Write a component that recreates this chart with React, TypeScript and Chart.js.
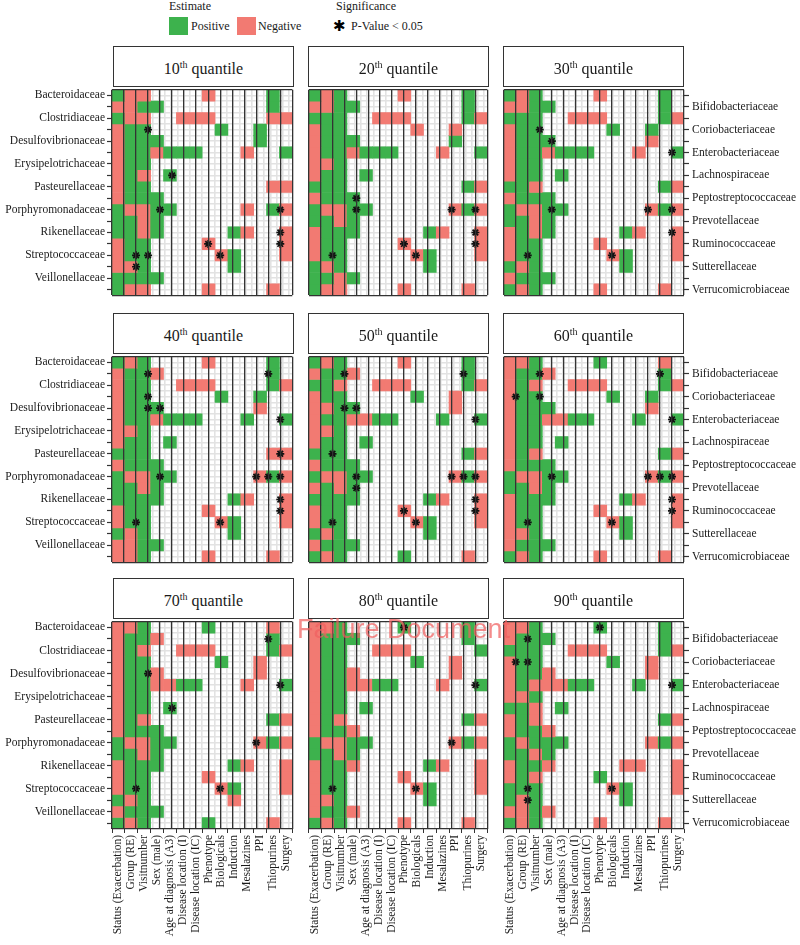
import React, { useEffect, useRef } from 'react';
import { Chart, registerables } from 'chart.js';

Chart.register(...registerables);

const COLUMNS = [
  'Status (Exacerbation)', 'Group (RE)', 'Visitnumber', 'Sex (male)', 'Age at diagnosis (A3)',
  'Disease location (I)', 'Disease location (IC)', 'Phenotype', 'Biologicals', 'Induction',
  'Mesalazines', 'PPI', 'Thiopurines', 'Surgery',
];

const FAMILIES = [
  'Bacteroidaceae', 'Bifidobacteriaceae', 'Clostridiaceae', 'Coriobacteriaceae',
  'Desulfovibrionaceae', 'Enterobacteriaceae', 'Erysipelotrichaceae', 'Lachnospiraceae',
  'Pasteurellaceae', 'Peptostreptococcaceae', 'Porphyromonadaceae', 'Prevotellaceae',
  'Rikenellaceae', 'Ruminococcaceae', 'Streptococcaceae', 'Sutterellaceae',
  'Veillonellaceae', 'Verrucomicrobiaceae',
];

const QUANTILES = ['10', '20', '30', '40', '50', '60', '70', '80', '90'];

// One string per family, one character per column:
// P = positive, N = negative, p / n = significant (P-Value < 0.05), . = no estimate
const Q10 = [
  'PNN....N....P.', 'NNPP........P.', 'PNN..NNN....NN', 'NPp.....P..P..', 'NPPP.......P..',
  'NPPNPPP...N..P', 'NPP...........', 'NPN.p.........', 'NPP.........NN', 'NPPP..........',
  'PNNpP.....N.Pn', 'PPNP..........', 'PPNP.....PN..n', 'NPP....n.....n', 'Npp.....nP...N',
  'NnP......P....', 'PPPP..........', 'PNN....N....N.',
];
const Q20 = [
  'PNP....N....P.', 'NNPP........P.', 'PPP..NNN....PN', 'NPP.....N..N..', 'NPPP.......P..',
  'NPPNPPP...N..P', 'NNP...........', 'NPP.P.........', 'PPP.........PN', 'NPPp..........',
  'PNNpP......nPn', 'PPNP..........', 'NPPP.....PN..n', 'NPP....n.....n', 'NpP.....nP...N',
  'PNP......P....', 'PPNP..........', 'PNN....N....N.',
];
const Q30 = [
  'PNP....N....P.', 'NNPP........P.', 'PPP..NNN....PN', 'NPp.....P..P..', 'NPPp.......N..',
  'NPPNPPP...N..p', 'NPP...........', 'NPP.P.........', 'PPN.........PN', 'NPPP..........',
  'PNNpP......nPn', 'PPNP..........', 'NPNP.....PN..n', 'NPP....N.....N', 'NpP.....nP...N',
  'PNP......P....', 'NPPP..........', 'PNP....N....N.',
];
const Q40 = [
  'PNP....N....P.', 'NPpN........p.', 'NPP..NNN....PN', 'NPp.....P..P..', 'NPpp.......N..',
  'NPPNPPP...P..p', 'NNP...........', 'NPP.P.........', 'PPP.........Nn', 'NPPP..........',
  'PNNpP......npn', 'PPNP..........', 'PPPP.....PN..n', 'NPP....N.....n', 'NpP.....nP...N',
  'PNP......P....', 'NNPP..........', 'NNP....N....N.',
];
const Q50 = [
  'PNP....N....P.', 'NPpN........p.', 'PPN..NNN....PN', 'NPP.....P..N..', 'NNpp.......N..',
  'NPPNNPP...P..p', 'NNP...........', 'NPP.P.........', 'PpP.........PN', 'NPPP..........',
  'PNNpP......npn', 'NPNp..........', 'PPPP.....PN..n', 'NPP....n.....n', 'NpP.....nP...N',
  'PNP......P....', 'NPPP..........', 'PNP....P....N.',
];
const Q60 = [
  'NNP....P....N.', 'NPpN........p.', 'NPN..NNN....PN', 'nPp.....P..P..', 'NPPP.......N..',
  'NPPNNPP...P..p', 'NPP...........', 'NPP.P.........', 'NPN.........PN', 'NPPP..........',
  'PNNpP......npn', 'PPNP..........', 'NPPP.....PN..n', 'NPP....N.....n', 'NpP.....nP...N',
  'NNP......P....', 'NPPP..........', 'PNP....N....N.',
];
const Q70 = [
  'NNP....P....N.', 'NPPN........p.', 'NPN..NNN....PN', 'NPP.....P..N..', 'NPpN.......N..',
  'NPPNNPP...N..p', 'NPP...........', 'NPP.p.........', 'NPN.........PN', 'NPPP..........',
  'PNNPP......nPN', 'PPNP..........', 'NPPP.....PN..N', 'NPP....N.....N', 'NpP.....nP...N',
  'PNP......N....', 'NPPP..........', 'PNP....P....N.',
];
const Q80 = [
  'NNP....p....P.', 'NPPP........P.', 'NPP..NNN.....P', 'NPP.....P..N..', 'NPPN.......N..',
  'NPPNNPP...N..p', 'NPP...........', 'NPP.P.........', 'NPN.........PN', 'NPPN..........',
  'PNNPP......nPN', 'PPNP..........', 'NPPN.....PN..N', 'NPP....N.....N', 'NpP.....nP...N',
  'NNP......P....', 'NPPN..........', 'PNP....N....N.',
];
const Q90 = [
  'NNP....p....P.', 'NpPP........P.', 'PPP..NNN....PN', 'npP.....P..N..', 'NPPN.......N..',
  'NPNNNPP...P..p', 'NNP...........', 'PPN.P.........', 'NPN.........PN', 'NPPN..........',
  'PNPPP......NPN', 'PPNP..........', 'NPPN.....NN..N', 'NPN....P.....N', 'PpP.....nP...N',
  'PnP......P....', 'NNPN..........', 'PNP....N....N.',
];

const PANELS = [Q10, Q20, Q30, Q40, Q50, Q60, Q70, Q80, Q90];

const SERIF = "'Liberation Serif', 'Times New Roman', serif";
const TXT = '#1a1a1a';
const GREEN = '#3DB24D';
const RED = '#F27A72';
const FRAME = '#333333';
const LIGHT = '#e2e2e2';

const FIG_W = 800;
const FIG_H = 945;
const PX = [112, 307, 502];
const PY = [88, 355, 620];
const PW = 182;
const PH = 209;
const STRIP_H = 41;

function noPad(s: any) {
  s.paddingLeft = 0;
  s.paddingRight = 0;
  s.paddingTop = 0;
  s.paddingBottom = 0;
}

function Panel({ idx }: { idx: number }) {
  const ref = useRef<HTMLCanvasElement>(null);
  const r = Math.floor(idx / 3);
  const c = idx % 3;
  const left = c === 0 ? 0 : PX[c] - 4;
  const right = c === 2 ? FIG_W : PX[c] + PW + 4;
  const top = PY[r] - 4;
  const bottom = r === 2 ? FIG_H : PY[r] + PH + 4;
  const w = right - left;
  const h = bottom - top;
  const showLeft = c === 0;
  const showRight = c === 2;
  const showBottom = r === 2;

  useEffect(() => {
    const grid = PANELS[idx];
    const datasets: any[] = FAMILIES.map((fam, ri) => ({
      type: 'bar',
      label: fam,
      order: 2,
      data: COLUMNS.map((_, ci) => (grid[ri][ci] === '.' ? null : [ri, ri + 1])),
      backgroundColor: COLUMNS.map((_, ci) => ('Pp'.includes(grid[ri][ci]) ? GREEN : RED)),
      borderWidth: 0,
      barPercentage: 1,
      categoryPercentage: 1,
      grouped: false,
      xAxisID: 'x',
      yAxisID: 'y',
    }));
    const stars: { x: number; y: number }[] = [];
    grid.forEach((row, ri) =>
      row.split('').forEach((ch, ci) => {
        if (ch === 'p' || ch === 'n') stars.push({ x: ci, y: ri + 0.5 });
      })
    );
    datasets.push({
      type: 'scatter',
      label: 'P-Value < 0.05',
      data: stars,
      xAxisID: 'xb',
      yAxisID: 'y',
      pointStyle: 'star',
      radius: 4,
      borderWidth: 1.7,
      borderColor: '#111',
      backgroundColor: '#111',
      order: 0,
    });

    const rowTicks = (s: any) => {
      s.ticks = FAMILIES.map((_, i) => ({ value: i + 0.5 }));
    };
    const labelFont = { family: SERIF, size: 11.5 };

    const chart = new Chart(ref.current as HTMLCanvasElement, {
      type: 'bar',
      data: { labels: COLUMNS, datasets },
      options: {
        responsive: false,
        animation: false,
        events: [],
        layout: {
          padding: {
            left: showLeft ? 0 : 4,
            right: showRight ? 0 : 4,
            top: 4,
            bottom: showBottom ? 0 : 4,
          },
        },
        plugins: { legend: { display: false }, tooltip: { enabled: false }, title: { display: false } },
        scales: {
          x: {
            type: 'category',
            position: 'bottom',
            offset: true,
            grid: {
              display: showBottom,
              drawOnChartArea: false,
              tickLength: 4,
              tickColor: FRAME,
              tickWidth: 1,
            },
            border: { display: false },
            ticks: {
              display: showBottom,
              autoSkip: false,
              minRotation: 90,
              maxRotation: 90,
              padding: 2,
              color: TXT,
              font: labelFont,
            },
            afterFit: (s: any) => {
              s.height = showBottom ? FIG_H - (PY[2] + PH) : 0;
              noPad(s);
            },
          },
          xg: {
            type: 'linear',
            position: 'bottom',
            min: -0.5,
            max: 13.5,
            afterBuildTicks: (s: any) => {
              const t: any[] = [];
              COLUMNS.forEach((_, i) => {
                t.push({ value: i - 0.25 });
                t.push({ value: i + 0.25 });
              });
              s.ticks = t;
            },
            grid: { color: LIGHT, lineWidth: 1.6, drawTicks: false },
            border: { display: false },
            ticks: { display: false },
            afterFit: (s: any) => {
              s.height = 0;
              noPad(s);
            },
          },
          xb: {
            type: 'linear',
            position: 'bottom',
            min: -0.5,
            max: 13.5,
            afterBuildTicks: (s: any) => {
              const t: any[] = [];
              for (let i = 0; i <= COLUMNS.length; i++) t.push({ value: i - 0.5 });
              s.ticks = t;
            },
            grid: { color: FRAME, lineWidth: 1.3, drawTicks: false, z: 1 },
            border: { display: false },
            ticks: { display: false },
            afterFit: (s: any) => {
              s.height = 0;
              noPad(s);
            },
          },
          y: {
            type: 'linear',
            position: 'left',
            min: 0,
            max: FAMILIES.length,
            reverse: true,
            afterBuildTicks: rowTicks,
            grid: {
              display: showLeft,
              drawOnChartArea: false,
              tickLength: 5,
              tickColor: FRAME,
              tickWidth: 1.2,
            },
            border: { display: false },
            ticks: {
              display: showLeft,
              autoSkip: false,
              padding: 2,
              color: TXT,
              font: labelFont,
              callback: (_v: any, i: number) => (i % 2 === 0 ? FAMILIES[i] : ''),
            },
            afterFit: (s: any) => {
              s.width = showLeft ? PX[0] : 0;
              noPad(s);
            },
          },
          y2: {
            type: 'linear',
            position: 'right',
            min: 0,
            max: FAMILIES.length,
            reverse: true,
            afterBuildTicks: rowTicks,
            grid: {
              display: showRight,
              drawOnChartArea: false,
              tickLength: 5,
              tickColor: FRAME,
              tickWidth: 1.2,
            },
            border: { display: false },
            ticks: {
              display: showRight,
              autoSkip: false,
              padding: 3,
              color: TXT,
              font: labelFont,
              callback: (_v: any, i: number) => (i % 2 === 1 ? FAMILIES[i] : ''),
            },
            afterFit: (s: any) => {
              s.width = showRight ? FIG_W - (PX[2] + PW) : 0;
              noPad(s);
            },
          },
          yg: {
            type: 'linear',
            position: 'left',
            min: 0,
            max: FAMILIES.length,
            reverse: true,
            afterBuildTicks: (s: any) => {
              const t: any[] = [];
              for (let k = 1; k < FAMILIES.length * 2; k++) t.push({ value: k / 2 });
              s.ticks = t;
            },
            grid: { color: LIGHT, lineWidth: 1.6, drawTicks: false },
            border: { display: false },
            ticks: { display: false },
            afterFit: (s: any) => {
              s.width = 0;
              noPad(s);
            },
          },
          yb: {
            type: 'linear',
            position: 'left',
            min: 0,
            max: FAMILIES.length,
            reverse: true,
            afterBuildTicks: (s: any) => {
              s.ticks = [{ value: 0 }, { value: FAMILIES.length }];
            },
            grid: { color: FRAME, lineWidth: 1.3, drawTicks: false, z: 1 },
            border: { display: false },
            ticks: { display: false },
            afterFit: (s: any) => {
              s.width = 0;
              noPad(s);
            },
          },
        } as any,
      },
    } as any);
    return () => chart.destroy();
  }, [idx]);

  return (
    <canvas
      ref={ref}
      width={w}
      height={h}
      style={{ position: 'absolute', left, top, width: w, height: h }}
    />
  );
}

function Strip({ idx }: { idx: number }) {
  const r = Math.floor(idx / 3);
  const c = idx % 3;
  return (
    <div
      style={{
        position: 'absolute',
        left: PX[c] + 1,
        top: PY[r] - STRIP_H - 1,
        width: PW - 1,
        height: STRIP_H,
        boxSizing: 'border-box',
        border: '1.3px solid #333',
        background: '#fff',
        display: 'flex',
        alignItems: 'center',
        justifyContent: 'center',
        fontFamily: SERIF,
        fontSize: 16,
        color: TXT,
        paddingTop: 4,
      }}
    >
      <span>
        {QUANTILES[idx]}
        <sup style={{ fontSize: 10 }}>th</sup> quantile
      </span>
    </div>
  );
}

function Legend() {
  const text: React.CSSProperties = {
    position: 'absolute',
    fontFamily: SERIF,
    fontSize: 12,
    color: TXT,
    lineHeight: '14px',
    whiteSpace: 'nowrap',
  };
  return (
    <>
      <div style={{ ...text, left: 169, top: -1 }}>Estimate</div>
      <div style={{ position: 'absolute', left: 169, top: 17, width: 19, height: 18, background: GREEN }} />
      <div style={{ ...text, left: 191, top: 19 }}>Positive</div>
      <div style={{ position: 'absolute', left: 237, top: 17, width: 19, height: 18, background: RED }} />
      <div style={{ ...text, left: 258, top: 19 }}>Negative</div>
      <div style={{ ...text, left: 336, top: -1 }}>Significance</div>
      <div
        style={{
          ...text,
          left: 333,
          top: 17,
          fontFamily: "'DejaVu Sans', sans-serif",
          fontSize: 15,
          lineHeight: '18px',
          color: '#000',
        }}
      >
        ✱
      </div>
      <div style={{ ...text, left: 351, top: 19 }}>P-Value &lt; 0.05</div>
    </>
  );
}

export default function App() {
  return (
    <div
      style={{
        position: 'absolute',
        left: 0,
        top: 0,
        width: FIG_W,
        height: FIG_H,
        background: '#fff',
        overflow: 'hidden',
      }}
    >
      <Legend />
      {PANELS.map((_, i) => (
        <Panel key={'p' + i} idx={i} />
      ))}
      {PANELS.map((_, i) => (
        <Strip key={'s' + i} idx={i} />
      ))}
      <div
        style={{
          position: 'absolute',
          left: 297,
          top: 614,
          fontFamily: "'Liberation Sans', Arial, sans-serif",
          fontSize: 27,
          color: 'rgba(240, 95, 95, 0.72)',
          whiteSpace: 'nowrap',
          pointerEvents: 'none',
        }}
      >
        Failure Document
      </div>
    </div>
  );
}
